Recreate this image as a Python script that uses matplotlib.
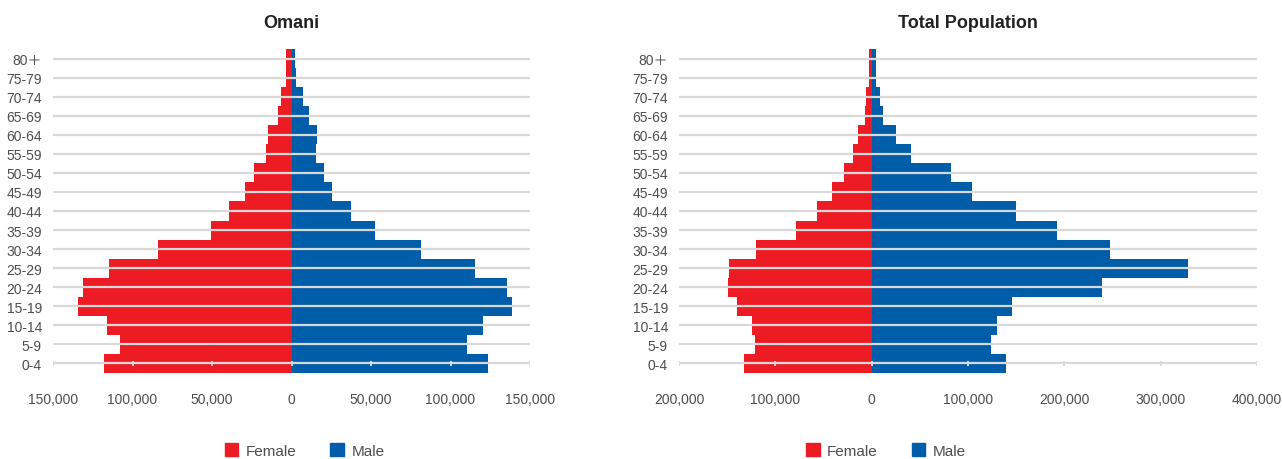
import matplotlib.pyplot as plt
from matplotlib.patches import Patch

plt.rcParams['font.family'] = ['Liberation Sans', 'Noto Sans CJK JP', 'DejaVu Sans']

# Age groups, bottom to top
age_groups = ["0-4", "5-9", "10-14", "15-19", "20-24", "25-29", "30-34", "35-39",
              "40-44", "45-49", "50-54", "55-59", "60-64", "65-69", "70-74", "75-79", "80＋"]

# Omani population
omani_female = [117700, 107700, 115800, 134100, 130900, 114600, 83800, 50500,
                39200, 29100, 23500, 15900, 14700, 8400, 6500, 3400, 3400]
omani_male = [123600, 110500, 120500, 138700, 135600, 115500, 81600, 52700,
              37700, 25700, 20700, 15700, 16300, 10700, 7500, 3100, 2500]

# Total population
total_female = [132200, 120700, 123800, 139500, 148900, 147800, 119600, 79000,
                57000, 41400, 28900, 19500, 14300, 7000, 5900, 2800, 2800]
total_male = [139800, 124200, 130400, 146000, 239100, 328200, 247400, 192600,
              150100, 104600, 82800, 40400, 24800, 11400, 8300, 4100, 4100]

omani_ticks = [-150000, -100000, -50000, 0, 50000, 100000, 150000]
total_ticks = [-200000, -100000, 0, 100000, 200000, 300000, 400000]

RED = "#ED1C24"
BLUE = "#005DAA"
GRID = "#d9d9d9"
TEXT = "#4d4d4d"


def draw_pyramid(ax, female, male, ticks, title, legend_x):
    y = list(range(len(age_groups)))
    ax.barh(y, [-v for v in female], height=1.0, color=RED, zorder=2)
    ax.barh(y, male, height=1.0, color=BLUE, zorder=2)

    # grid lines at category centres, drawn over the bars
    ax.hlines(y, ticks[0], ticks[-1], color=GRID, lw=1.6, zorder=3)
    # small tick marks on the bottom line
    ax.vlines(ticks, -0.15, 0.15, color=GRID, lw=1.4, zorder=3)

    ax.set_xlim(ticks[0], ticks[-1])
    ax.set_ylim(-0.5, len(age_groups) - 0.5)
    ax.set_yticks(y)
    ax.set_yticklabels(age_groups)
    ax.set_xticks(ticks)
    ax.set_xticklabels([f"{abs(t):,}" for t in ticks])
    ax.tick_params(axis="both", length=0, labelsize=10, colors=TEXT)
    ax.tick_params(axis="x", pad=14)
    ax.tick_params(axis="y", pad=8)
    for s in ax.spines.values():
        s.set_visible(False)
    ax.set_title(title, fontsize=13, fontweight="bold", color="#222222", pad=16)

    handles = [Patch(color=RED, label="Female"), Patch(color=BLUE, label="Male")]
    ax.legend(handles=handles, loc="center", bbox_to_anchor=(legend_x, -0.24),
              ncol=2, frameon=False, fontsize=11, handlelength=0.9, handleheight=0.9,
              handletextpad=0.5, columnspacing=2.2, labelcolor=TEXT)


fig = plt.figure(figsize=(12.82, 4.6), dpi=100)
ax1 = fig.add_axes([53 / 1282, 1 - 374 / 460, 477 / 1282, 324 / 460])
ax2 = fig.add_axes([679 / 1282, 1 - 374 / 460, 578 / 1282, 324 / 460])

draw_pyramid(ax1, omani_female, omani_male, omani_ticks, "Omani", 0.528)
draw_pyramid(ax2, total_female, total_male, total_ticks, "Total Population", 0.358)

fig.savefig("out.png", dpi=100)
